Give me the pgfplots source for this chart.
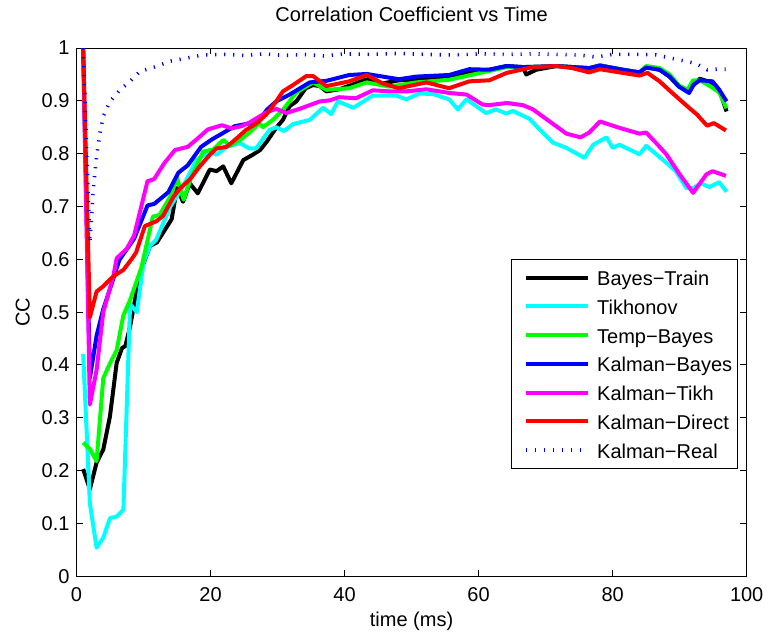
\documentclass[border=0pt]{standalone}
\usepackage{fontspec}
\setmainfont{Liberation Sans}
\usepackage{pgfplots}
\pgfplotsset{compat=1.18}

\definecolor{mlcyan}{rgb}{0,1,1}
\definecolor{mlmagenta}{rgb}{1,0,1}
\definecolor{mlgreen}{rgb}{0,1,0}
\definecolor{mlblue}{rgb}{0,0,1}
\definecolor{mlred}{rgb}{1,0,0}

\newcommand{\chartfont}{\fontsize{10bp}{12bp}\selectfont}

\begin{document}
\begin{tikzpicture}
\begin{axis}[
    scale only axis,
    width=335.25bp, height=264.2bp,
    xmin=0, xmax=100, ymin=0, ymax=1,
    xtick={0,20,40,60,80,100},
    ytick={0,0.1,0.2,0.3,0.4,0.5,0.6,0.7,0.8,0.9,1},
    tick align=inside,
    major tick length=3.2bp,
    axis line style={line width=0.5bp},
    every tick/.style={black, line width=0.5bp},
    /pgf/number format/assume math mode=true,
    tick label style={font=\chartfont},
    xticklabel style={anchor=base, yshift=-12.7bp},
    title={Correlation Coefficient vs Time},
    title style={at={(axis description cs:0.5,1.0284)}, anchor=base, font=\chartfont},
    xlabel={time (ms)},
    ylabel={CC},
    xlabel style={at={(axis description cs:0.5,-0.0946)}, anchor=base, font=\chartfont},
    ylabel style={at={(axis description cs:-0.0698,0.5)}, anchor=base, font=\chartfont},
    legend style={
        at={(0.9866,0.2038)}, anchor=south east,
        draw=black, line width=0.5bp, fill=white,
        font=\chartfont,
        inner xsep=2.5bp, inner ysep=2.65bp,
        row sep=1.45bp,
        nodes={inner sep=0pt, text height=10.5bp, text depth=2.4bp},
    },
    legend cell align=left,
    legend image code/.code={
        \path (-4bp,0bp) (34.5bp,0bp);
        \draw[#1] (0bp,0bp) -- (31bp,0bp);
    },
    every axis plot/.append style={line join=round},
]
% Bayes-Train
\addplot[black, line width=2bp] coordinates {
(1,0.203)(2,0.165)(3,0.215)(4,0.240)(5,0.303)(6,0.404)(6.8,0.432)(7.3,0.436)(8,0.473)(9.5,0.575)
(11,0.626)(12,0.632)(14.2,0.676)(15,0.735)(15.9,0.709)(16.9,0.744)(18.1,0.725)(19.9,0.77)(20.9,0.767)
(21.9,0.776)(23.1,0.744)(24.9,0.788)(26.3,0.798)(27.4,0.807)(28.4,0.823)(29.8,0.849)(30.8,0.864)
(31.8,0.89)(32.8,0.899)(34.2,0.924)(35.3,0.93)(36.3,0.928)(37.3,0.918)(39.2,0.922)(41,0.93)(43.3,0.941)
(45.7,0.933)(48.1,0.939)(51,0.94)(53,0.942)(55.6,0.943)(58.6,0.954)(61.6,0.959)(64.2,0.966)(66.6,0.964)
(67.1,0.95)(68.6,0.959)(71.6,0.966)(76.5,0.962)(78.1,0.967)(81.5,0.959)(84,0.954)(85,0.964)(87,0.959)
(88.5,0.946)(89.9,0.927)(91.2,0.919)(93,0.942)(94.9,0.934)(95.9,0.921)(97,0.88)
};
\addlegendentry{Bayes−Train}
% Tikhonov
\addplot[mlcyan, line width=2bp] coordinates {
(1,0.421)(2,0.138)(3,0.054)(4,0.073)(5,0.11)(6,0.113)(7,0.126)(8,0.515)(9,0.5)(10,0.594)
(11,0.626)(11.9,0.637)(14,0.7)(15.9,0.738)(17.9,0.788)(19.9,0.804)(20.9,0.798)(22.4,0.813)(24.4,0.82)
(25.8,0.81)(26.8,0.81)(28.8,0.845)(29.8,0.85)(31,0.843)(32.3,0.856)(34.8,0.864)(36.8,0.887)(38,0.875)
(39,0.899)(41.3,0.887)(44.2,0.91)(46.7,0.91)(47.7,0.91)(49.2,0.903)(51.2,0.914)(53.2,0.913)(55.6,0.903)
(56.9,0.884)(58.2,0.903)(61.1,0.877)(62.6,0.884)(64.1,0.876)(65.1,0.881)(67.6,0.866)(69.1,0.846)
(71.1,0.821)(73.1,0.811)(75.8,0.792)(77.1,0.817)(79.1,0.831)(80,0.811)(81,0.817)(84,0.799)(85,0.815)
(86.5,0.799)(88,0.783)(89.4,0.767)(91,0.735)(92,0.735)(93.2,0.744)(94.4,0.737)(95.9,0.746)(97,0.728)
};
\addlegendentry{Tikhonov}
% Temp-Bayes
\addplot[mlgreen, line width=2bp] coordinates {
(1,0.253)(2,0.241)(3,0.218)(4,0.375)(5,0.403)(6,0.428)(7,0.494)(8,0.523)(9.7,0.585)(11.4,0.681)
(12.4,0.684)(14,0.719)(15,0.754)(16,0.713)(17,0.751)(18.9,0.804)(20.4,0.808)(21.9,0.826)(22.9,0.815)
(24.4,0.826)(25.8,0.84)(27.3,0.858)(27.8,0.85)(29.3,0.864)(30.8,0.883)(32.8,0.916)(35.3,0.935)
(37.3,0.921)(40.7,0.924)(43.3,0.935)(46.7,0.927)(50.7,0.935)(55.6,0.94)(60.6,0.954)(64.2,0.964)
(66.6,0.964)(71.6,0.966)(76.5,0.962)(78.1,0.967)(81.5,0.959)(84,0.954)(85,0.966)(87,0.962)(88.5,0.95)
(89.9,0.929)(91.2,0.921)(92,0.939)(93,0.939)(94.4,0.929)(95.9,0.916)(97,0.886)
};
\addlegendentry{Temp−Bayes}
% Kalman-Bayes
\addplot[mlblue, line width=2bp] coordinates {
(1,1.0)(2,0.375)(3,0.455)(4,0.506)(5.5,0.563)(6.4,0.599)(8.6,0.639)(10.6,0.702)(11.6,0.705)
(13.7,0.727)(15.2,0.764)(16.6,0.778)(18.6,0.813)(20.2,0.827)(21.7,0.838)(23.6,0.852)(25.6,0.857)
(27.1,0.86)(28.4,0.883)(29.8,0.899)(31.8,0.912)(34.8,0.935)(37.3,0.938)(40.7,0.949)(43.3,0.951)
(45.7,0.946)(48.1,0.941)(50.7,0.946)(55.6,0.949)(58.6,0.96)(61.6,0.959)(64.2,0.966)(66.6,0.964)
(71.6,0.966)(76.5,0.962)(78.1,0.967)(81.5,0.959)(84,0.954)(85,0.963)(87,0.959)(88.5,0.946)
(89.9,0.927)(91.4,0.915)(92.1,0.931)(93,0.939)(94.9,0.937)(95.9,0.921)(97,0.899)
};
\addlegendentry{Kalman−Bayes}
% Kalman-Tikh
\addplot[mlmagenta, line width=2bp] coordinates {
(1,1.0)(2,0.325)(3,0.39)(4,0.5)(5.5,0.568)(6,0.602)(7.5,0.62)(8.6,0.645)(10.6,0.748)(11.6,0.752)
(13.1,0.782)(14.7,0.807)(16.6,0.813)(18.1,0.829)(19.6,0.846)(21.7,0.854)(23.1,0.848)(24.6,0.852)
(25.8,0.859)(28.3,0.878)(29.8,0.885)(31.3,0.877)(33.3,0.885)(36.3,0.899)(37.8,0.901)(39.2,0.907)
(41.7,0.905)(44.2,0.92)(46.7,0.918)(49.2,0.918)(52.2,0.922)(55.6,0.915)(58.2,0.912)(60.6,0.893)
(61.6,0.892)(64.2,0.896)(66.6,0.892)(68.1,0.884)(70.6,0.861)(73.1,0.838)(75.2,0.831)(76.5,0.84)
(78.1,0.861)(81,0.849)(84,0.838)(85,0.84)(86.5,0.82)(88,0.799)(90,0.761)(92,0.726)(94,0.761)
(94.9,0.767)(96.9,0.758)
};
\addlegendentry{Kalman−Tikh}
% Kalman-Direct
\addplot[mlred, line width=2bp] coordinates {
(1,1.0)(2,0.49)(3,0.539)(4,0.549)(5.5,0.568)(7,0.58)(8.2,0.6)(8.9,0.613)(10.2,0.663)(11.9,0.672)
(12.9,0.682)(14.5,0.719)(15.5,0.735)(16.9,0.751)(18.4,0.776)(19.9,0.798)(20.9,0.81)(22.4,0.813)
(23.9,0.829)(25.3,0.845)(26.8,0.857)(28.3,0.874)(29.8,0.899)(30.8,0.918)(32.3,0.93)(34.3,0.947)
(35.3,0.947)(37.3,0.928)(40.7,0.937)(43.3,0.949)(45.7,0.933)(48.1,0.924)(52.2,0.935)(55.6,0.924)
(58.6,0.937)(61.6,0.939)(64.2,0.953)(68.1,0.964)(71.6,0.966)(74,0.962)(76.5,0.954)(78.1,0.96)
(81.5,0.953)(84,0.948)(85.2,0.953)(87,0.937)(88.9,0.915)(91.4,0.887)(92.6,0.874)(94.1,0.853)
(95.1,0.858)(96.9,0.844)
};
\addlegendentry{Kalman−Direct}
% Kalman-Real
\addplot[mlblue, line width=1.8bp, dash pattern=on 0.6bp off 3.9bp] coordinates {
(1,1.0)(2,0.631)(2.5,0.732)(3,0.795)(3.5,0.839)(4,0.871)(5,0.899)(6.5,0.921)(8,0.937)(9.5,0.956)
(11.9,0.965)(13.9,0.975)(16.4,0.981)(18.9,0.987)(22,0.988)(25,0.986)(28,0.989)(31,0.986)(34,0.988)
(37,0.985)(40,0.989)(44,0.988)(48,0.99)(52,0.988)(56,0.987)(60,0.989)(64,0.988)(68,0.989)(72,0.988)
(75,0.987)(77.5,0.983)(80,0.988)(84,0.988)(86.5,0.987)(89.4,0.979)(92.4,0.971)(94.1,0.959)
(95.6,0.96)(96.9,0.96)
};
\addlegendentry{Kalman−Real}
\end{axis}
\path ([shift={(-38.25bp,-30.65bp)}]current axis.south west)
      ([shift={(11.5bp,19.15bp)}]current axis.north east);
\end{tikzpicture}
\end{document}
